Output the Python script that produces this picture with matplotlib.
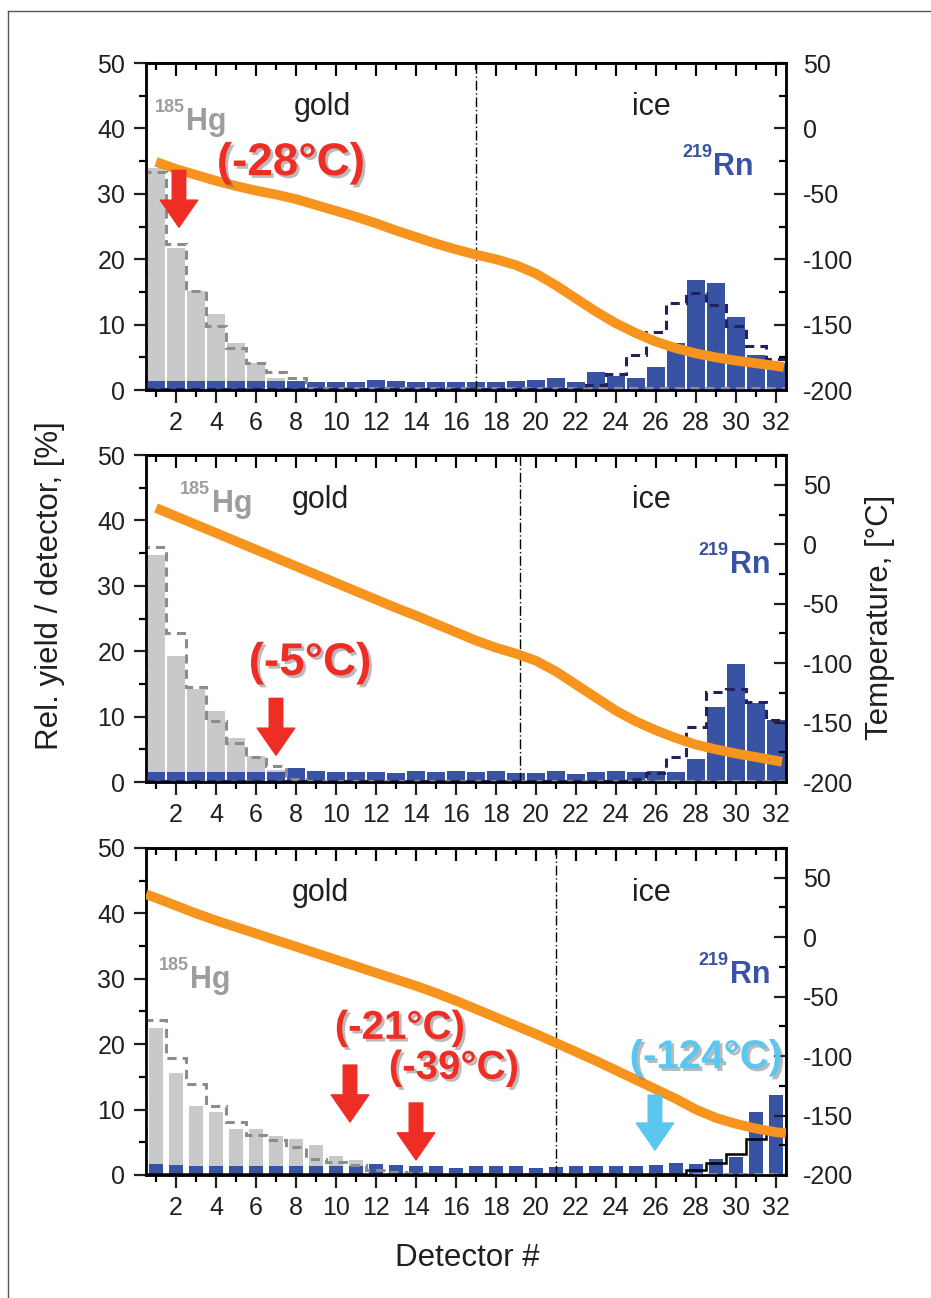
import numpy as np
import matplotlib
matplotlib.use("Agg")
import matplotlib.pyplot as plt
import matplotlib.ticker as ticker
import matplotlib.patheffects as pe
from matplotlib.lines import Line2D

plt.rcParams["font.family"] = ["Liberation Sans", "DejaVu Sans"]
plt.rcParams["axes.unicode_minus"] = False

# detector numbers (1..32)
detectors = np.arange(1, 33)

# --- panel 1 ---
hg_1 = [34.0, 21.7, 15.1, 11.6, 7.2, 4.2, 1.9, 1.2] + [0] * 24
hg_sim_1 = [33.4, 22.3, 15.1, 9.8, 6.4, 4.2, 2.7, 1.8] + [0.3] * 24
rn_1 = [1.4, 1.4, 1.4, 1.4, 1.4, 1.4, 1.4, 1.4, 1.3, 1.3, 1.3, 1.6, 1.4, 1.3, 1.3, 1.3,
        1.3, 1.3, 1.4, 1.5, 1.8, 1.2, 2.7, 2.2, 1.9, 3.5, 7.2, 16.8, 16.3, 11.1, 5.3, 4.1]
rn_sim_1 = [0.2] * 22 + [0.8, 2.4, 5.4, 8.9, 13.3, 14.9, 13.0, 9.8, 6.8, 4.7]
temp_x_1 = [1.0, 2, 3, 4, 5, 6, 7, 8, 9, 10, 11, 12, 13, 14, 15, 16, 17, 18, 19, 20,
            21, 22, 23, 24, 25, 26, 27, 28, 29, 30, 31, 32, 32.4]
temp_1 = [-25.5, -31, -35.5, -40, -44, -47.5, -50.5, -54, -58.5, -63, -67.5, -72.5, -78,
          -83, -88, -92.5, -96.5, -100, -104.5, -111, -120, -130, -140, -149, -156.5, -163,
          -168, -172, -175, -177.5, -179.5, -181.5, -182.5]

# --- panel 2 ---
hg_2 = [34.7, 19.2, 14.2, 10.9, 6.8, 4.0, 1.8] + [0] * 25
hg_sim_2 = [36.0, 22.8, 14.6, 9.4, 5.9, 3.8, 2.5, 0.5] + [0.2] * 24
rn_2 = [1.5, 1.5, 1.5, 1.5, 1.5, 1.5, 1.5, 2.2, 1.7, 1.6, 1.5, 1.5, 1.4, 1.7, 1.5, 1.7,
        1.6, 1.7, 1.4, 1.4, 1.7, 1.2, 1.5, 1.7, 1.5, 1.7, 1.6, 3.5, 11.5, 18.0, 12.1, 9.5]
rn_sim_2 = [0.2] * 24 + [0.4, 1.4, 3.8, 8.4, 13.8, 14.2, 12.2, 9.5]
temp_x_2 = [1.0, 2, 3, 4, 5, 6, 7, 8, 9, 10, 11, 12, 13, 14, 15, 16, 17, 18, 19, 20,
            21, 22, 23, 24, 25, 26, 27, 28, 29, 30, 31, 32, 32.3]
temp_2 = [30.5, 23.5, 16.5, 9.5, 2.5, -4.5, -11.5, -18.5, -25.5, -32.5, -39.5, -46.5,
          -53.5, -60, -67, -74, -81, -87, -92, -98, -107, -118, -129, -140, -149, -156.5,
          -163, -168.5, -172.5, -176, -179, -182, -183]

# --- panel 3 ---
hg_3 = [22.4, 15.6, 10.6, 9.7, 7.1, 7.0, 6.0, 5.5, 4.6, 2.9, 2.3] + [0] * 21
hg_sim_3 = [23.7, 17.9, 13.9, 10.6, 8.1, 6.1, 5.4, 4.2, 2.5, 2.0, 1.5, 0.8, 0.5, 0.3] + [0.2] * 18
rn_3 = [1.7, 1.5, 1.3, 1.3, 1.3, 1.3, 1.3, 1.3, 1.3, 1.3, 1.3, 1.7, 1.5, 1.4, 1.3, 1.1,
        1.3, 1.3, 1.3, 1.1, 1.2, 1.3, 1.4, 1.4, 1.4, 1.5, 1.8, 1.6, 2.4, 2.8, 9.6, 12.2]
rn_sim_3 = [0.1] * 27 + [0.8, 1.8, 3.2, 5.5, 6.6]
temp_x_3 = [0.5, 1, 2, 3, 4, 5, 6, 7, 8, 9, 10, 11, 12, 13, 14, 15, 16, 17, 18, 19, 20,
            21, 22, 23, 24, 25, 26, 27, 28, 29, 30, 31, 32, 32.5]
temp_3 = [36, 33, 26.5, 20, 14, 8.5, 3, -2.5, -8, -13.5, -19, -24.5, -30, -35.5, -41, -47,
          -53.5, -60.5, -67.5, -74.5, -81.5, -89, -96.5, -104, -112, -120, -128, -136,
          -145, -152, -157, -161, -164, -165]

# gold / ice boundary (detector #)
boundaries = [17.0, 19.2, 21.0]
temp_top = [50, 75, 75]

# deposition temperature markers: (label, detector, arrow top, arrow tip, text x, text y, colour)
markers = [
    [("(-28°C)", 2.15, 33.6, 24.9, 7.75, 34.7, "red")],
    [("(-5°C)", 7.0, 12.8, 4.1, 8.7, 18.2, "red")],
    [("(-21°C)", 10.7, 16.8, 8.1, 13.2, 22.5, "red"),
     ("(-39°C)", 14.0, 11.0, 2.3, 15.9, 16.4, "red"),
     ("(-124°C)", 25.95, 12.2, 3.8, 28.5, 18.0, "cyan")],
]
# label anchors (detector, yield)
hg_pos = [(2.5, 39.8), (3.78, 41.3), (2.7, 28.6)]
rn_pos = [(28.87, 32.9), (29.7, 32.0), (29.7, 29.4)]
gold_pos = [(9.3, 43.3), (9.2, 43.1), (9.2, 43.1)]
ice_pos = [(25.75, 43.3), (25.75, 43.1), (25.75, 43.1)]
bar_width = [0.9, 0.9, 0.7]

C_BLUE = "#3953a4"
C_GRAY = "#c8c9cb"
C_GRAYTXT = "#9b9da0"
C_ORANGE = "#f7941e"
C_NAVY = "#23215e"
C_DASH = "#8c8c8c"
COLS = {"red": "#ee2e24", "cyan": "#5bc6f0"}

panels = [
    (hg_1, hg_sim_1, rn_1, rn_sim_1, temp_x_1, temp_1),
    (hg_2, hg_sim_2, rn_2, rn_sim_2, temp_x_2, temp_2),
    (hg_3, hg_sim_3, rn_3, rn_sim_3, temp_x_3, temp_3),
]

fig = plt.figure(figsize=(9.31, 12.98), dpi=100)
bottoms = [0.6995, 0.3975, 0.0948]
edges = np.append(detectors - 0.5, detectors[-1] + 0.5)

for i, (hg, hg_sim, rn, rn_sim, tx, tv) in enumerate(panels):
    ax = fig.add_axes([0.1568, bottoms[i], 0.6874, 0.2519])
    ax.bar(detectors, hg, width=bar_width[i], color=C_GRAY, zorder=1)
    ax.bar(detectors, rn, width=bar_width[i], color=C_BLUE, zorder=2)
    ax.stairs(hg_sim, edges, color=C_DASH, lw=2.2, ls=(0, (3, 2)), zorder=3)
    if i < 2:
        ax.stairs(rn_sim, edges, color=C_NAVY, lw=2.2, ls=(0, (3, 2)), zorder=3)
    else:
        ax.stairs(rn_sim, edges, color="black", lw=1.8, zorder=3)
    ax.axvline(boundaries[i], color="black", lw=1.0, ls=(0, (7, 2, 1, 2)), zorder=4)

    ax.set_xlim(0.5, 32.5)
    ax.set_ylim(0, 50)
    ax.xaxis.set_major_locator(ticker.MultipleLocator(2))
    ax.xaxis.set_minor_locator(ticker.MultipleLocator(1))
    ax.yaxis.set_major_locator(ticker.MultipleLocator(10))
    ax.yaxis.set_minor_locator(ticker.MultipleLocator(5))
    ax.tick_params(axis="both", which="major", direction="out", length=9, width=1.6,
                   labelsize=18, top=False, right=False, pad=6, colors="#231f20")
    ax.tick_params(axis="both", which="minor", direction="out", length=5, width=1.6,
                   top=False, right=False)
    for s in ax.spines.values():
        s.set_linewidth(1.8)
        s.set_color("#231f20")

    sec = ax.secondary_xaxis("top")
    sec.xaxis.set_major_locator(ticker.MultipleLocator(2))
    sec.xaxis.set_minor_locator(ticker.MultipleLocator(1))
    sec.tick_params(which="major", direction="in", length=9, width=1.6, labeltop=False)
    sec.tick_params(which="minor", direction="in", length=5, width=1.6)
    sec.spines["top"].set_linewidth(1.8)

    ax2 = ax.twinx()
    ax2.plot(tx, tv, color=C_ORANGE, lw=7, solid_capstyle="butt",
             solid_joinstyle="round", zorder=5)
    ax2.set_ylim(-200, temp_top[i])
    ax2.yaxis.set_major_locator(ticker.MultipleLocator(50))
    ax2.yaxis.set_minor_locator(ticker.MultipleLocator(25))
    ax2.tick_params(axis="y", which="major", direction="in", length=9, width=1.6,
                    labelsize=18, pad=12, colors="#231f20")
    ax2.tick_params(axis="y", which="minor", direction="in", length=5, width=1.6)
    for s in ax2.spines.values():
        s.set_linewidth(1.8)

    # region and nuclide labels
    ax2.text(*gold_pos[i], "gold", transform=ax.transData, fontsize=22,
             ha="center", va="center", color="#231f20")
    ax2.text(*ice_pos[i], "ice", transform=ax.transData, fontsize=22,
             ha="center", va="center", color="#231f20")
    ax2.text(*hg_pos[i], "Hg", transform=ax.transData, fontsize=22, fontweight="bold",
             ha="left", va="baseline", color=C_GRAYTXT)
    ax2.annotate("185", xy=hg_pos[i], xycoords=ax.transData, xytext=(-1, 13),
                 textcoords="offset points", fontsize=13, fontweight="bold",
                 ha="right", va="baseline", color=C_GRAYTXT)
    ax2.text(*rn_pos[i], "Rn", transform=ax.transData, fontsize=22, fontweight="bold",
             ha="left", va="baseline", color=C_BLUE)
    ax2.annotate("219", xy=rn_pos[i], xycoords=ax.transData, xytext=(-1, 13),
                 textcoords="offset points", fontsize=13, fontweight="bold",
                 ha="right", va="baseline", color=C_BLUE)

    for lab, d, y0, y1, lx, ly, c in markers[i]:
        col = COLS[c]
        ax2.annotate("", xy=(d, y1), xytext=(d, y0), xycoords=ax.transData,
                     arrowprops=dict(arrowstyle="simple,head_length=1.3,head_width=1.8,tail_width=0.65",
                                     color=col, mutation_scale=15, shrinkA=0, shrinkB=0),
                     zorder=7)
        fs = 33 if i < 2 else 29
        ax2.text(lx, ly, lab, transform=ax.transData, fontsize=fs, fontweight="bold",
                 ha="center", va="center", color=col, zorder=8,
                 path_effects=[pe.withSimplePatchShadow(offset=(2, -2),
                                                        shadow_rgbFace="#777777", alpha=0.5)])

fig.text(0.0537, 0.549, "Rel. yield / detector, [%]", rotation=90, fontsize=22.5,
         ha="center", va="center", color="#231f20")
fig.text(0.945, 0.5247, "Temperature, [°C]", rotation=90, fontsize=22.5,
         ha="center", va="center", color="#231f20")
fig.text(0.5016, 0.0308, "Detector #", fontsize=22.5, ha="center", va="center",
         color="#231f20")

# frame lines (left and top)
fig.add_artist(Line2D([7.5 / 931, 7.5 / 931], [0, 1 - 10.5 / 1298],
                      transform=fig.transFigure, color="#555555", lw=1))
fig.add_artist(Line2D([7.5 / 931, 1], [1 - 10.5 / 1298, 1 - 10.5 / 1298],
                      transform=fig.transFigure, color="#555555", lw=1))

fig.savefig("out.png", dpi=100)
